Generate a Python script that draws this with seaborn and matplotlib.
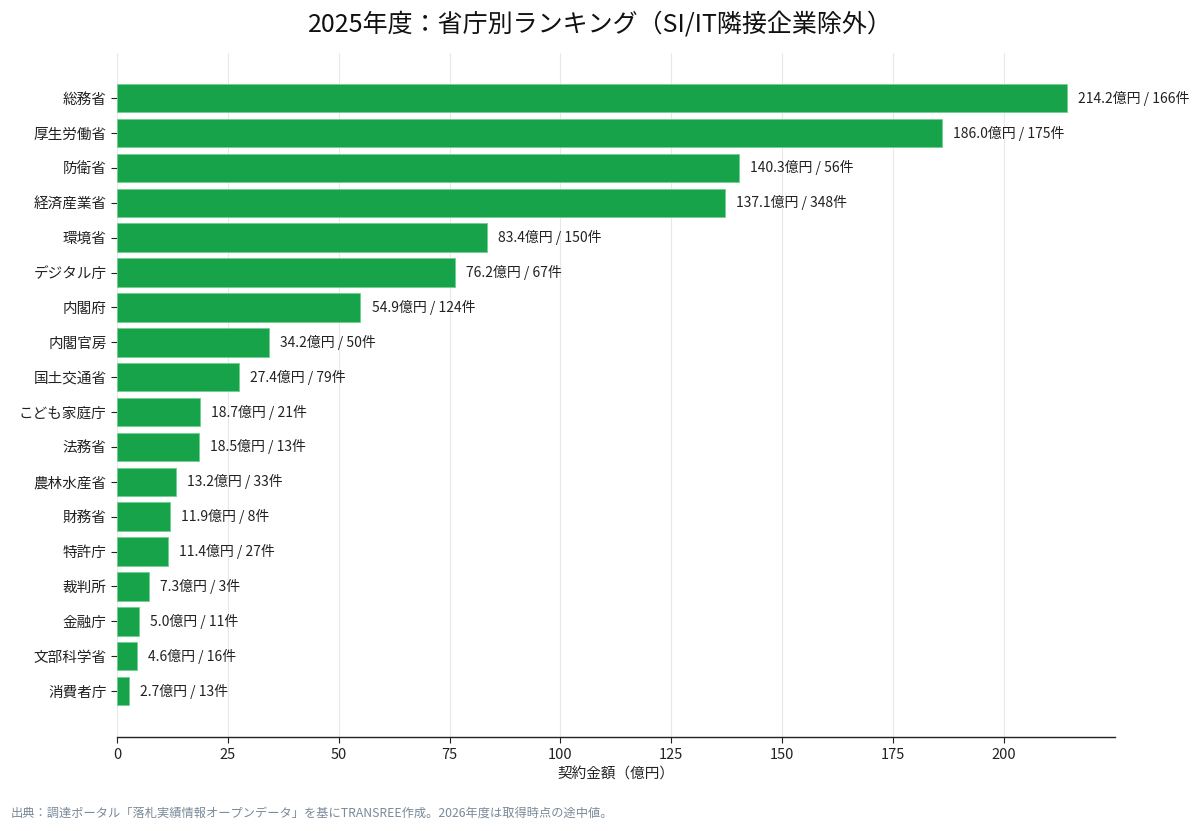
import matplotlib
matplotlib.use('Agg')
import matplotlib.pyplot as plt
import seaborn as sns
import pandas as pd

# データ
省庁 = ['総務省', '厚生労働省', '防衛省', '経済産業省', '環境省', 'デジタル庁', '内閣府', '内閣官房',
      '国土交通省', 'こども家庭庁', '法務省', '農林水産省', '財務省', '特許庁', '裁判所', '金融庁',
      '文部科学省', '消費者庁']
金額 = [214.2, 186.0, 140.3, 137.1, 83.4, 76.2, 54.9, 34.2, 27.4, 18.7, 18.5, 13.2, 11.9, 11.4,
      7.3, 5.0, 4.6, 2.7]
件数 = [166, 175, 56, 348, 150, 67, 124, 50, 79, 21, 13, 33, 8, 27, 3, 11, 16, 13]

df = pd.DataFrame({'省庁': 省庁, '金額': 金額, '件数': 件数})

sns.set_theme(style='whitegrid')
plt.rcParams['font.family'] = ['Noto Sans CJK JP', 'DejaVu Sans']

fig = plt.figure(figsize=(12, 8.31), dpi=100)
ax = fig.add_axes([0.0975, 0.113, 0.8315, 0.823])

sns.barplot(data=df, y='省庁', x='金額', color='#16a34a', saturation=1, width=0.82,
            edgecolor='#6fcf8f', linewidth=0.6, ax=ax)

for i, (v, n) in enumerate(zip(金額, 件数)):
    ax.text(v + 2.5, i, f'{v:.1f}億円 / {n}件', va='center', ha='left', fontsize=10, color='#222222')

ax.set_xlim(0, 225)
ax.set_ylim(18.32, -1.29)
ax.set_xticks([0, 25, 50, 75, 100, 125, 150, 175, 200])
ax.set_xlabel('契約金額（億円）', fontsize=10.5, color='#222222')
ax.set_ylabel('')
ax.tick_params(axis='both', labelsize=10.5, colors='#222222', length=4, width=0.8)
ax.tick_params(axis='y', left=True)
ax.tick_params(axis='x', bottom=True)
ax.grid(axis='x', color='#e8e8e8', linewidth=0.8)
ax.grid(axis='y', visible=False)
for s in ['top', 'right', 'left']:
    ax.spines[s].set_visible(False)
ax.spines['bottom'].set_color('#222222')
ax.spines['bottom'].set_linewidth(1.0)
ax.set_facecolor('white')

fig.suptitle('2025年度：省庁別ランキング（SI/IT隣接企業除外）', fontsize=18, y=0.985, color='#111111')
fig.text(0.009, 0.017, '出典：調達ポータル「落札実績情報オープンデータ」を基にTRANSREE作成。2026年度は取得時点の途中値。',
         fontsize=8.8, color='#7a8a9a')

fig.savefig('out.png', dpi=100, facecolor='white')
